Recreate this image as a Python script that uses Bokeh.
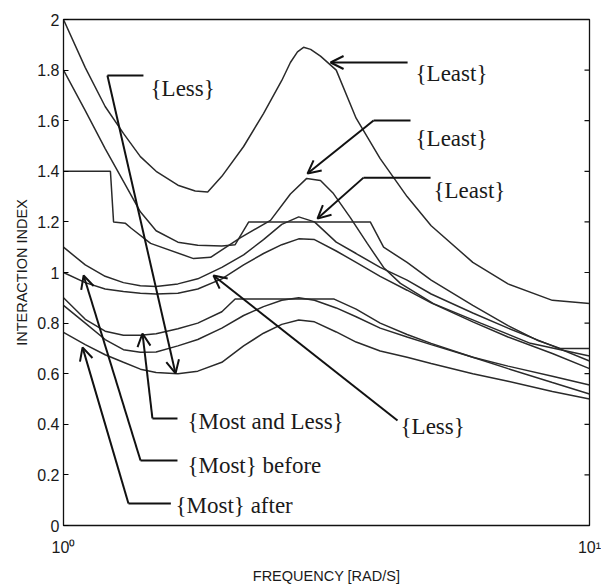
from bokeh.plotting import figure
from bokeh.models import (Range1d, FixedTicker, NumeralTickFormatter,
                          Arrow, OpenHead, Label)
from bokeh.embed import file_html
from bokeh.resources import INLINE

# ---------------- data (frequency in rad/s, interaction index) ----------------
grid = [1.0, 1.1, 1.2, 1.3, 1.4, 1.5, 1.65, 1.8, 2.0, 2.2, 2.4, 2.6, 2.8, 3.0,
        3.3, 3.6, 4.0, 4.5, 5.0, 6.0, 7.0, 8.5, 10.0]

freq_a = [1.0, 1.1, 1.2, 1.3, 1.4, 1.5, 1.65, 1.78, 1.88, 2.0, 2.2, 2.4, 2.6, 2.70,
          2.785, 2.86, 2.95, 3.08, 3.3, 3.6, 4.0, 4.5, 5.0, 6.0, 7.0, 8.5, 10.0]
idx_a = [2.0, 1.81, 1.656, 1.55, 1.458, 1.40, 1.345, 1.322, 1.318, 1.38, 1.498, 1.628,
         1.759, 1.83, 1.872, 1.89, 1.882, 1.855, 1.80, 1.61, 1.45, 1.30, 1.185, 1.04,
         0.955, 0.89, 0.877]

freq_b = [1.0, 1.1, 1.2, 1.3, 1.4, 1.5, 1.65, 1.8, 2.0, 2.12, 2.25, 3.0, 3.83, 4.06,
          4.5, 5.0, 6.0, 7.0, 8.0, 8.8, 10.0]
idx_b = [1.8, 1.64, 1.49, 1.36, 1.24, 1.165, 1.12, 1.108, 1.105, 1.11, 1.2, 1.2, 1.2,
         1.10, 1.04, 0.97, 0.87, 0.79, 0.73, 0.70, 0.70]

freq_c = [1.0, 1.228, 1.245, 1.31, 1.345, 1.464, 1.767, 1.904, 2.171, 2.475, 2.70,
          2.90, 3.08, 3.26, 3.51, 3.78, 4.06, 4.37, 5.05, 6.21, 7.72, 10.0]
idx_c = [1.4, 1.4, 1.2, 1.195, 1.175, 1.115, 1.055, 1.06, 1.138, 1.206, 1.31, 1.372,
         1.364, 1.312, 1.217, 1.115, 1.02, 0.957, 0.877, 0.80, 0.72, 0.67]

idx_d = [1.1, 1.03, 0.985, 0.96, 0.948, 0.945, 0.955, 0.975, 1.02, 1.07, 1.13, 1.19,
         1.22, 1.20, 1.12, 1.075, 1.02, 0.97, 0.915, 0.84, 0.78, 0.71, 0.65]

idx_e = [1.0, 0.96, 0.935, 0.925, 0.918, 0.915, 0.918, 0.935, 0.975, 1.03, 1.075, 1.11,
         1.133, 1.13, 1.085, 1.04, 0.985, 0.93, 0.88, 0.805, 0.745, 0.68, 0.62]

freq_f = [1.0, 1.1, 1.2, 1.3, 1.4, 1.5, 1.65, 1.8, 2.0, 2.12, 3.27, 3.6, 4.0, 4.5,
          5.0, 6.0, 7.0, 8.5, 10.0]
idx_f = [0.9, 0.815, 0.768, 0.752, 0.752, 0.758, 0.778, 0.80, 0.845, 0.895, 0.895,
         0.855, 0.80, 0.755, 0.72, 0.665, 0.63, 0.59, 0.555]

idx_g = [0.87, 0.80, 0.735, 0.695, 0.685, 0.686, 0.71, 0.735, 0.78, 0.83, 0.865, 0.89,
         0.90, 0.89, 0.86, 0.825, 0.78, 0.745, 0.715, 0.665, 0.62, 0.565, 0.52]

idx_h = [0.763, 0.715, 0.675, 0.645, 0.618, 0.605, 0.60, 0.61, 0.645, 0.71, 0.76, 0.795,
         0.812, 0.805, 0.765, 0.725, 0.69, 0.665, 0.64, 0.60, 0.57, 0.53, 0.50]

series = [(freq_a, idx_a), (freq_b, idx_b), (freq_c, idx_c), (grid, idx_d),
          (grid, idx_e), (freq_f, idx_f), (grid, idx_g), (grid, idx_h)]

y_ticks = [0, 0.2, 0.4, 0.6, 0.8, 1, 1.2, 1.4, 1.6, 1.8, 2]
x_ticks = [1, 10]
x_tick_labels = {1: "10\u2070", 10: "10\u00b9"}

# annotation callouts: label text, label anchor, elbow point, arrow tip, connector start
callouts = [
    ("{Least}",         (4.67, 1.787), (4.51, 1.83),  (3.219, 1.83), None),
    ("{Least}",         (4.67, 1.530), (4.568, 1.601), (2.910, 1.391), (3.886, 1.601)),
    ("{Least}",         (5.05, 1.324), (4.987, 1.375), (3.040, 1.213), (3.719, 1.375)),
    ("{Less}",          (1.464, 1.727), (1.419, 1.779), (1.633, 0.601), (1.212, 1.779)),
    ("{Most and Less}", (1.72, 0.411), (1.647, 0.423), (1.413, 0.759), (1.476, 0.423)),
    ("{Less}",          (4.373, 0.391), (4.315, 0.415), (1.928, 0.988), None),
    ("{Most} before",   (1.72, 0.237), (1.647, 0.257), (1.092, 0.988), (1.401, 0.257)),
    ("{Most} after",    (1.633, 0.079), (1.600, 0.087), (1.087, 0.704), (1.329, 0.087)),
]

# ---------------- figure ----------------
p = figure(x_axis_type="log", x_range=Range1d(1, 10), y_range=Range1d(0, 2),
           frame_width=526, frame_height=506,
           min_border_left=63, min_border_right=12, min_border_top=19, min_border_bottom=60,
           output_backend="svg", toolbar_location=None)
p.xgrid.visible = False
p.ygrid.visible = False
p.outline_line_color = "#111111"
p.outline_line_width = 1.3
p.background_fill_color = "white"
p.border_fill_color = "white"

for fx, vy in series:
    p.line(fx, vy, line_color="#2a2a2a", line_width=1.5)

# inward tick marks on the right frame edge (half of each dash is clipped by the frame)
p.dash(x=[10] * len(y_ticks), y=y_ticks, size=10, angle=0,
       line_color="#111111", line_width=1.2)

# callouts
for text, (lx, ly), (ex, ey), (tx, ty), hx_end in callouts:
    if hx_end is not None:
        p.line([ex, hx_end[0]], [ey, hx_end[1]], line_color="#111111", line_width=2)
        sx, sy = hx_end
    else:
        sx, sy = ex, ey
    p.add_layout(Arrow(x_start=sx, y_start=sy, x_end=tx, y_end=ty,
                       line_color="#111111", line_width=2,
                       end=OpenHead(size=13, line_width=2, line_color="#111111")))
    p.add_layout(Label(x=lx, y=ly, text=text, text_font="Liberation Serif",
                       text_font_size="23px", text_baseline="middle", text_align="left",
                       text_color="#1a1a1a"))

# axes
ya = p.yaxis[0]
ya.ticker = FixedTicker(ticks=y_ticks)
ya.formatter = NumeralTickFormatter(format="0.[0]")
ya.major_tick_in = 5
ya.major_tick_out = 0
ya.minor_tick_line_color = None
ya.axis_line_color = "#111111"
ya.major_label_text_font = "Liberation Sans"
ya.major_label_text_font_size = "16px"
ya.major_label_text_color = "#1a1a1a"
ya.major_label_standoff = 4
ya.axis_label = "INTERACTION INDEX"
ya.axis_label_text_font = "Liberation Sans"
ya.axis_label_text_font_size = "14.5px"
ya.axis_label_text_font_style = "normal"
ya.axis_label_text_color = "#1a1a1a"
ya.axis_label_standoff = 4

xa = p.xaxis[0]
xa.ticker = FixedTicker(ticks=x_ticks)
xa.major_label_overrides = x_tick_labels
xa.major_tick_in = 0
xa.major_tick_out = 0
xa.minor_tick_line_color = None
xa.axis_line_color = "#111111"
xa.major_label_text_font = "Liberation Sans"
xa.major_label_text_font_size = "16px"
xa.major_label_text_color = "#1a1a1a"
xa.major_label_standoff = 13
xa.axis_label = "FREQUENCY [RAD/S]"
xa.axis_label_text_font = "Liberation Sans"
xa.axis_label_text_font_size = "14.5px"
xa.axis_label_text_font_style = "normal"
xa.axis_label_text_color = "#1a1a1a"
xa.axis_label_standoff = 9

open("out.html", "w").write(file_html(p, INLINE))
